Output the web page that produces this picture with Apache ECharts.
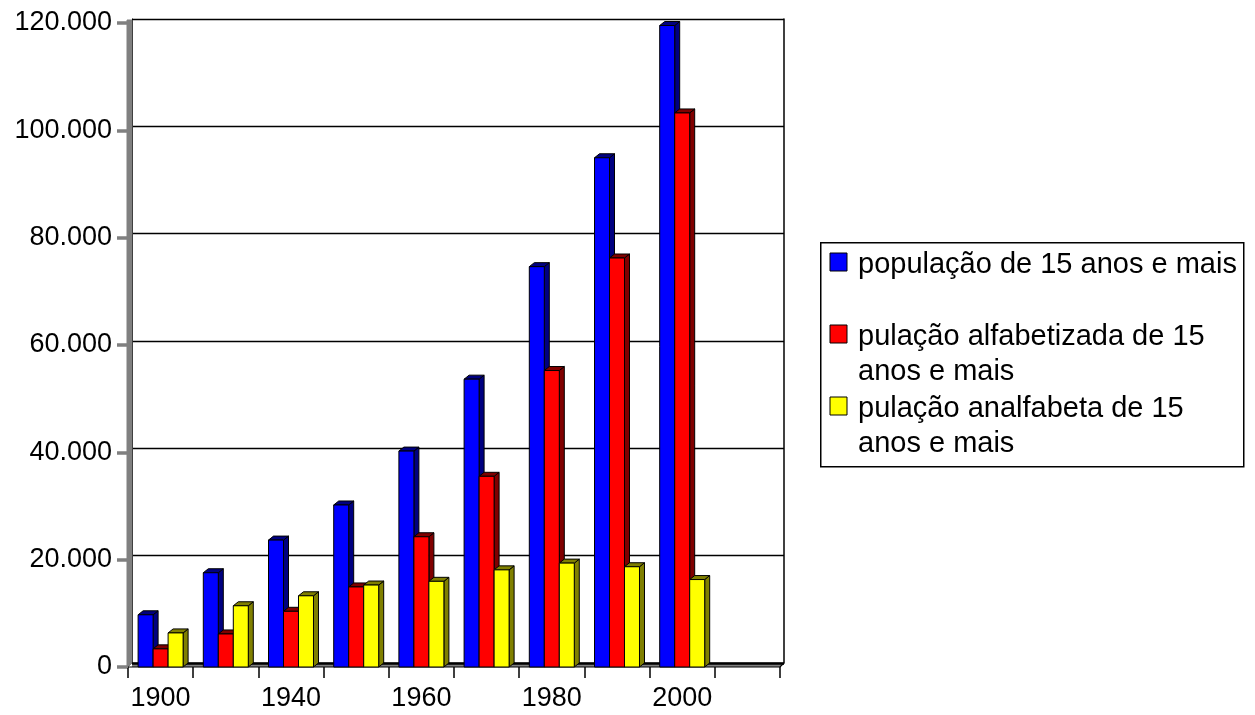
<!DOCTYPE html>
<html>
<head>
<meta charset="utf-8">
<script src="https://cdn.jsdelivr.net/npm/echarts@6/dist/echarts.min.js"></script>
<style>
html,body{margin:0;padding:0;background:#fff;}
#chart{width:1255px;height:715px;}
</style>
</head>
<body>
<div id="chart"></div>
<script>
const categories = ['1900','1920','1940','1950','1960','1970','1980','1991','2000',''];
const seriesNames = ['população de 15 anos e mais','pulação alfabetizada de 15\nanos e mais','pulação analfabeta de 15\nanos e mais'];
const popTotal = [9728,17564,23648,30188,40233,53633,74600,94891,119533];
const popLiterate = [3380,6155,10379,14916,24269,35533,55244,76209,103238];
const popIlliterate = [6348,11409,13269,15272,15964,18100,19356,18682,16295];
const yTicks = [0,20000,40000,60000,80000,100000,120000];

const frontColors = ['#0000FF','#FF0000','#FFFF00'];
const sideColors = ['#000080','#800000','#808000'];
const FONT = "'Liberation Sans', Arial, sans-serif";
const DX = 5, DY = 4, WALL = 4;

const chart = echarts.init(document.getElementById('chart'), null, {renderer:'canvas'});

function barSeries(values, s) {
  return {
    type: 'custom',
    name: seriesNames[s],
    xAxisIndex: 0, yAxisIndex: 0,
    z: 3,
    data: values.map((v,i)=>[i,v]),
    encode: {x:0, y:1},
    renderItem: function(params, api) {
      const ci = api.value(0), v = api.value(1);
      const base = api.coord([ci, 0]);
      const top = api.coord([ci, v]);
      const band = api.size([1,0])[0];
      const bw = band * 0.23;
      const x0 = base[0] - 1.5*bw + s*bw;
      const yb = base[1], yt = top[1];
      const st = {stroke:'#000', lineWidth:1};
      return {
        type:'group',
        children:[
          {type:'polygon', shape:{points:[[x0+bw,yt],[x0+bw+DX,yt-DY],[x0+bw+DX,yb-DY],[x0+bw,yb]]},
           style:Object.assign({fill:sideColors[s]}, st)},
          {type:'polygon', shape:{points:[[x0,yt],[x0+DX,yt-DY],[x0+bw+DX,yt-DY],[x0+bw,yt]]},
           style:Object.assign({fill:sideColors[s]}, st)},
          {type:'rect', shape:{x:x0, y:yt, width:bw, height:yb-yt},
           style:Object.assign({fill:frontColors[s]}, st)}
        ]
      };
    }
  };
}

const wallSeries = {
  type:'custom',
  xAxisIndex:0, yAxisIndex:0,
  z: 1,
  silent: true,
  data:[[0,0]],
  encode:{x:0,y:1},
  renderItem: function(params, api) {
    const c = params.coordSys;
    const x = c.x, y = c.y, w = c.width, h = c.height;
    return {
      type:'group',
      children:[
        {type:'polygon', shape:{points:[[x+w,y+h],[x+WALL,y+h],[x+WALL,y+h-WALL],[x+w+WALL,y+h-WALL]]},
         style:{fill:'#808080'}},
        {type:'polygon', shape:{points:[[x-1,y+h+1],[x+WALL,y+h-WALL],[x+WALL,y-3],[x-1,y-3]]},
         style:{fill:'#808080', stroke:'#808080', lineWidth:1}},
        {type:'polyline', shape:{points:[[x,y+h],[x+w,y+h],[x+w+WALL,y+h-WALL]]},
         style:{stroke:'#000', lineWidth:1.2, fill:null}},
        {type:'line', shape:{x1:x+WALL, y1:y+h-WALL+0.5, x2:x+w+WALL, y2:y+h-WALL+0.5},
         style:{stroke:'#000', lineWidth:2.5}}
      ]
    };
  }
};

const legendX = 820, legendY = 242;
const legendGraphics = [
  {type:'rect', left:legendX, top:legendY, shape:{x:0,y:0,width:423,height:224},
   style:{fill:'#fff', stroke:'#000', lineWidth:1.5}}
];
const itemTops = [246, 318, 390];
for (let s=0;s<3;s++){
  legendGraphics.push({type:'rect', position:[830, itemTops[s]+7], shape:{x:0,y:0,width:17,height:18},
    style:{fill:frontColors[s], stroke:'#000', lineWidth:1}});
  legendGraphics.push({type:'text', position:[858, itemTops[s]+1],
    style:{text:seriesNames[s], font:'29px '+FONT, fill:'#000', textVerticalAlign:'top', lineHeight:35.5}});
}

chart.setOption({
  animation:false,
  backgroundColor:'#fff',
  grid:[
    {left:128, top:23, width:652, height:644},
    {left:132, top:19, width:652, height:644}
  ],
  xAxis:[
    {type:'category', gridIndex:0, data:categories,
     axisLine:{show:false},
     axisTick:{show:true, interval:0, length:11, lineStyle:{color:'#000', width:1.5}},
     axisLabel:{interval:1, margin:18, fontSize:27, fontFamily:FONT, color:'#000'},
     splitLine:{show:false}},
    {type:'category', gridIndex:1, data:categories, show:false}
  ],
  yAxis:[
    {type:'value', gridIndex:0, min:0, max:120000, interval:20000,
     axisLine:{show:false},
     axisTick:{show:true, length:11, lineStyle:{color:'#808080', width:3.5}},
     axisLabel:{margin:16, fontSize:27, fontFamily:FONT, color:'#000',
       formatter:function(v){ return v===0 ? '0' : (v/1000)+'.000'; }},
     splitLine:{show:false}},
    {type:'value', gridIndex:1, min:0, max:120000, interval:20000,
     axisLine:{show:true, lineStyle:{color:'#000', width:1}}, axisTick:{show:false}, axisLabel:{show:false},
     splitLine:{show:true, lineStyle:{color:'#000', width:1.3}}},
    {type:'value', gridIndex:1, min:0, max:120000, interval:20000, position:'right',
     axisLine:{show:true, lineStyle:{color:'#000', width:1.5}}, axisTick:{show:false},
     axisLabel:{show:false}, splitLine:{show:false}}
  ],
  series:[
    wallSeries,
    barSeries(popTotal,0),
    barSeries(popLiterate,1),
    barSeries(popIlliterate,2)
  ],
  graphic: legendGraphics
});
</script>
</body>
</html>
